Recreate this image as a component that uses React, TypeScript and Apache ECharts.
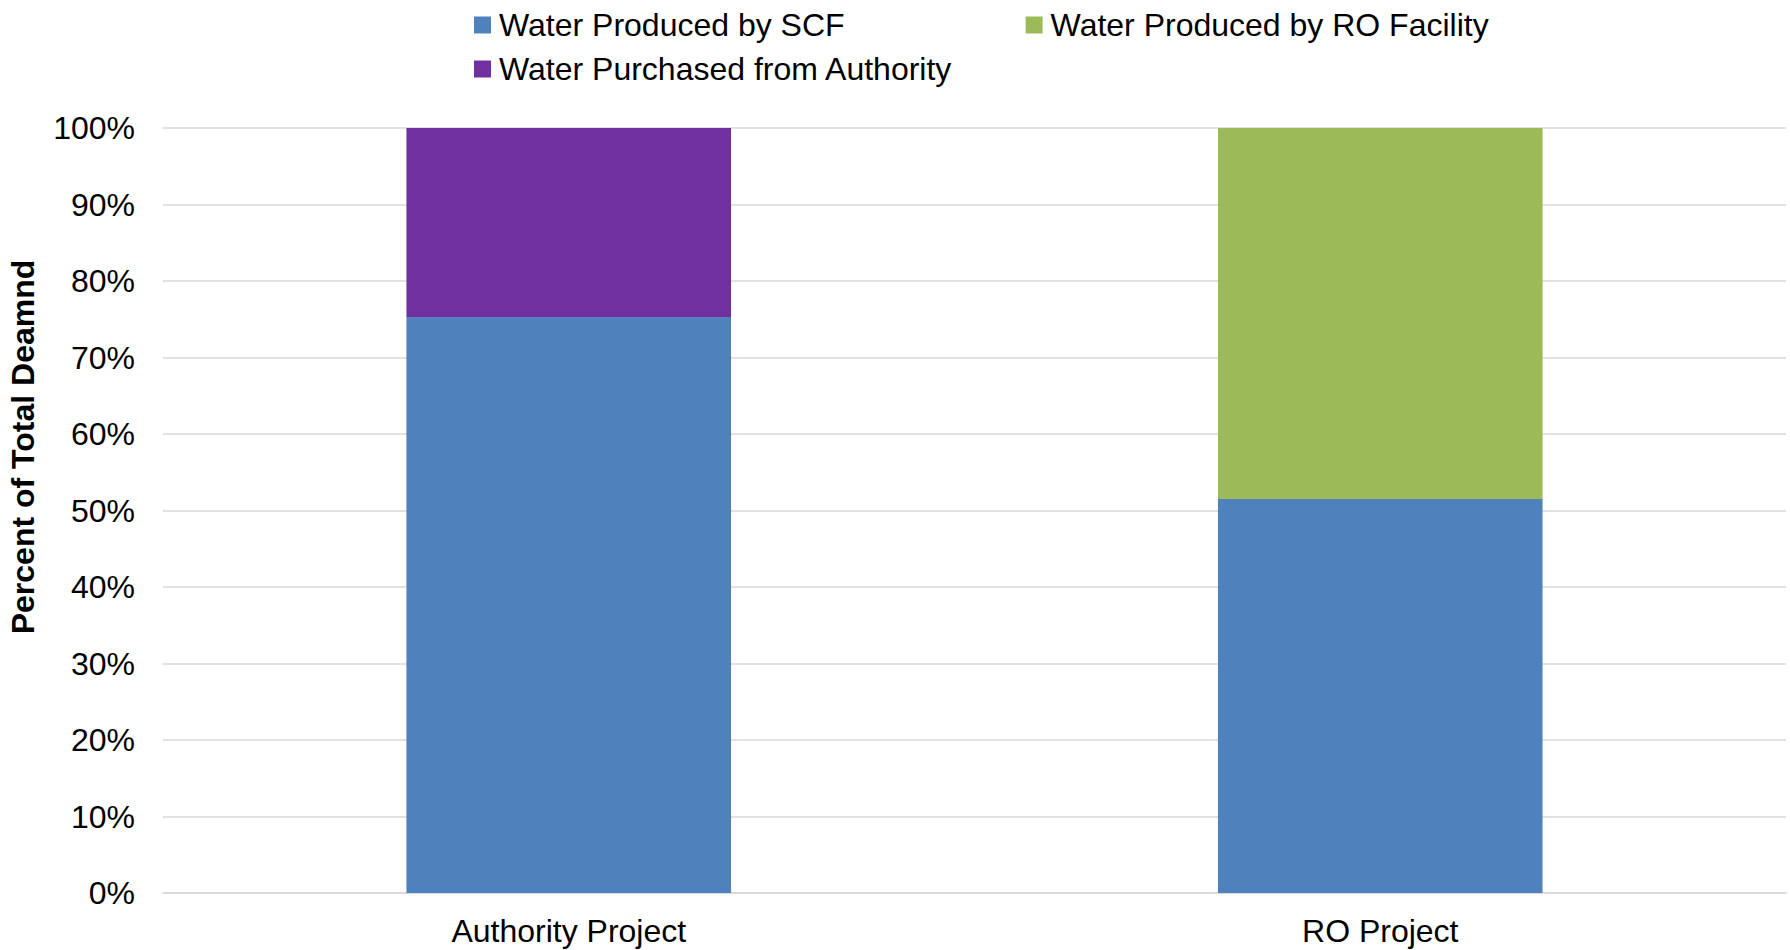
import React, { useEffect, useRef } from "react";
import * as echarts from "echarts";

// Share of total demand by water source, per project scenario
const categories = ["Authority Project", "RO Project"];
const seriesNames = [
  "Water Produced by SCF",
  "Water Produced by RO Facility",
  "Water Purchased from Authority",
];
const producedBySCF = [75.3, 51.5];
const producedByRO = [null, 48.5];
const purchasedFromAuthority = [24.7, null];
const seriesColors = ["#4F81BD", "#9BBB59", "#7030A0"];
const yAxisTitle = "Percent of Total Deamnd";

const FONT = "'Liberation Sans', Arial, Helvetica, sans-serif";

export default function App() {
  const ref = useRef<HTMLDivElement>(null);

  useEffect(() => {
    if (!ref.current) return;
    const chart = echarts.init(ref.current, null, { renderer: "svg" });
    const values = [producedBySCF, producedByRO, purchasedFromAuthority];

    const legendCommon = {
      orient: "horizontal" as const,
      icon: "rect",
      itemWidth: 17,
      itemHeight: 17,
      itemGap: 181,
      padding: 0,
      textStyle: {
        fontFamily: FONT,
        fontSize: 32,
        color: "#000",
        padding: [0, 0, 0, 3],
      },
      selectedMode: false,
    };

    chart.setOption({
      animation: false,
      backgroundColor: "#fff",
      color: seriesColors,
      legend: [
        { ...legendCommon, left: 474, top: 9, data: [seriesNames[0], seriesNames[1]] },
        { ...legendCommon, left: 474, top: 53, data: [seriesNames[2]] },
      ],
      grid: { left: 163, right: 4, top: 128, bottom: 57, containLabel: false },
      xAxis: {
        type: "category",
        data: categories,
        axisTick: { show: false },
        axisLine: { lineStyle: { color: "#d9d9d9", width: 1.5 } },
        axisLabel: { color: "#000", fontFamily: FONT, fontSize: 32, margin: 22 },
      },
      yAxis: {
        type: "value",
        min: 0,
        max: 100,
        interval: 10,
        axisLine: { show: false },
        axisTick: { show: false },
        splitLine: { lineStyle: { color: "#d9d9d9", width: 1.5 } },
        axisLabel: {
          color: "#000",
          fontFamily: FONT,
          fontSize: 32,
          margin: 28,
          formatter: "{value}%",
        },
      },
      graphic: [
        {
          type: "text",
          x: 23,
          y: 447,
          rotation: Math.PI / 2,
          style: {
            text: yAxisTitle,
            fontFamily: FONT,
            fontSize: 32,
            fontWeight: "bold",
            fill: "#000",
            textAlign: "center",
            textVerticalAlign: "middle",
          },
        },
      ],
      series: seriesNames.map((name, i) => ({
        name,
        type: "bar",
        stack: "total",
        barWidth: "40%",
        data: values[i],
        itemStyle: { color: seriesColors[i] },
      })),
    });

    return () => chart.dispose();
  }, []);

  return (
    <div
      ref={ref}
      style={{ position: "fixed", left: 0, top: 0, width: 1790, height: 950 }}
    />
  );
}
